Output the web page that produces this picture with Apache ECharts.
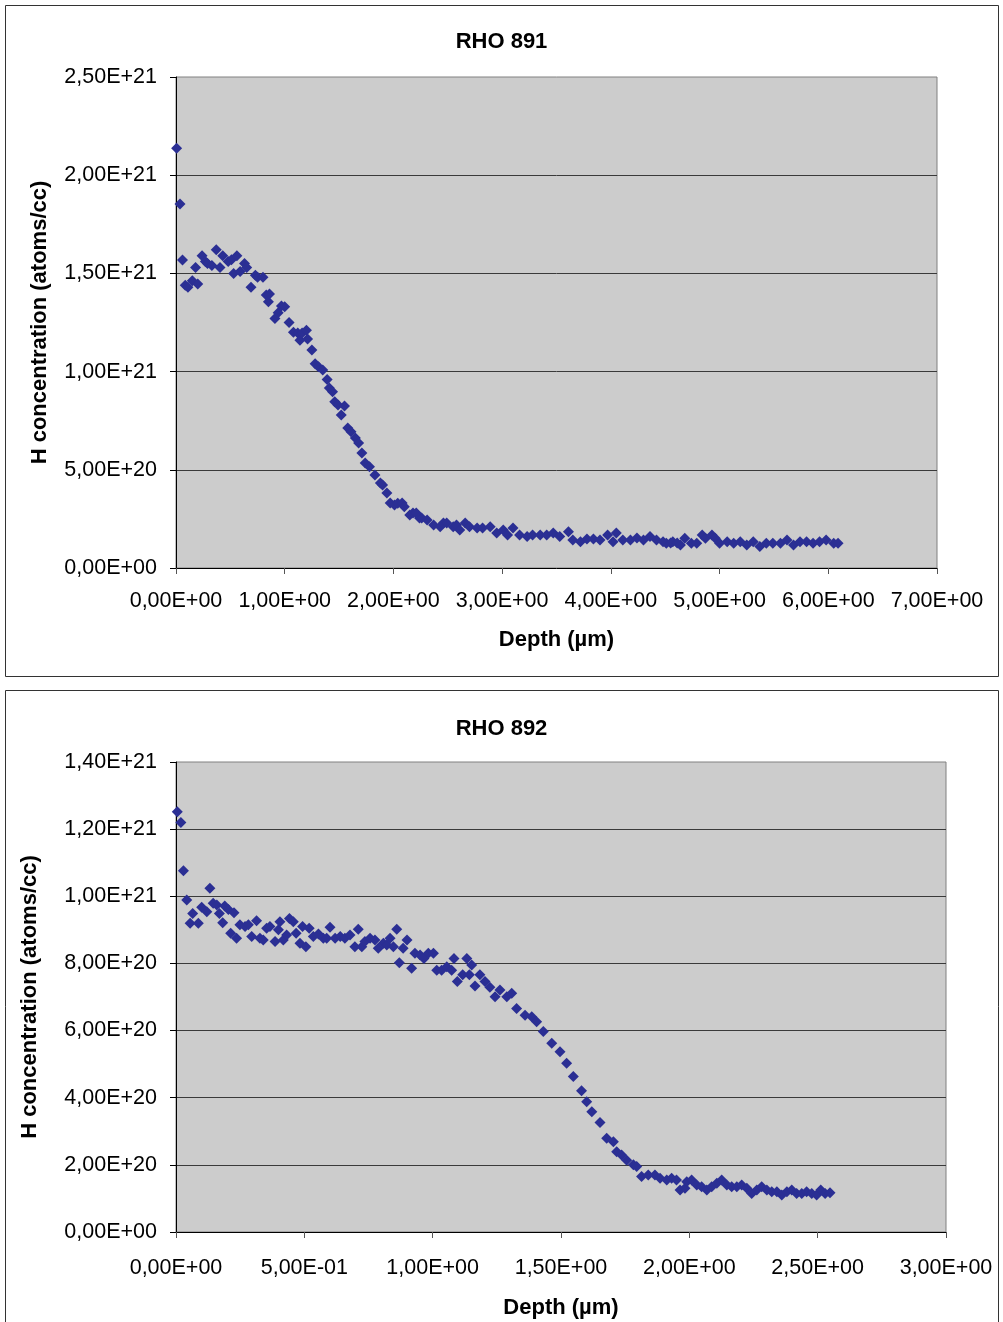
<!DOCTYPE html>
<html>
<head>
<meta charset="utf-8">
<script src="https://cdn.jsdelivr.net/npm/echarts@6/dist/echarts.min.js"></script>
<style>
html,body{margin:0;padding:0;background:#fff;}
#c{width:1003px;height:1322px;}
</style>
</head>
<body>
<div id="c"></div>
<script>
// RHO 891 : depth (µm) and H concentration (atoms/cc)
var rho891Depth = [0.006,0.037,0.06,0.085,0.11,0.15,0.18,0.2,0.24,0.27,0.29,0.33,0.37,0.405,0.43,0.48,0.51,0.53,0.56,0.59,0.63,0.65,0.69,0.73,0.75,0.8,0.83,0.85,0.86,0.91,0.94,0.97,1.0,1.04,1.08,1.12,1.14,1.16,1.2,1.21,1.25,1.28,1.31,1.35,1.39,1.41,1.44,1.46,1.49,1.52,1.55,1.58,1.61,1.65,1.68,1.71,1.74,1.78,1.83,1.88,1.9,1.94,1.97,2.01,2.04,2.08,2.1,2.15,2.18,2.21,2.24,2.26,2.31,2.37,2.43,2.46,2.49,2.55,2.58,2.61,2.66,2.7,2.77,2.82,2.89,2.95,3.01,3.05,3.1,3.16,3.23,3.28,3.35,3.41,3.47,3.53,3.61,3.65,3.72,3.78,3.84,3.9,3.97,4.02,4.05,4.11,4.18,4.24,4.3,4.36,4.42,4.48,4.51,4.55,4.57,4.61,4.64,4.68,4.74,4.79,4.84,4.87,4.93,4.96,5.0,5.07,5.13,5.19,5.25,5.31,5.37,5.43,5.49,5.56,5.62,5.68,5.74,5.8,5.86,5.92,5.98,6.05,6.09];
var rho891H = [21.37e20,18.53e20,15.68e20,14.4e20,14.3e20,14.63e20,15.3e20,14.46e20,15.9e20,15.6e20,15.5e20,15.4e20,16.2e20,15.3e20,15.9e20,15.6e20,15.7e20,15.0e20,15.9e20,15.1e20,15.5e20,15.3e20,14.3e20,14.9e20,14.8e20,14.8e20,13.9e20,13.56e20,13.95e20,12.7e20,13.0e20,13.34e20,13.3e20,12.5e20,12.0e20,11.97e20,11.6e20,11.97e20,12.1e20,11.66e20,11.1e20,10.4e20,10.25e20,10.08e20,9.6e20,9.16e20,8.98e20,8.47e20,8.3e20,7.79e20,8.25e20,7.13e20,6.94e20,6.62e20,6.36e20,5.85e20,5.35e20,5.16e20,4.74e20,4.33e20,4.23e20,3.82e20,3.31e20,3.21e20,3.3e20,3.31e20,3.12e20,2.7e20,2.8e20,2.8e20,2.55e20,2.55e20,2.44e20,2.19e20,2.1e20,2.29e20,2.29e20,2.1e20,2.19e20,1.93e20,2.29e20,2.1e20,2.04e20,2.04e20,2.1e20,1.78e20,1.93e20,1.68e20,2.04e20,1.68e20,1.6e20,1.68e20,1.68e20,1.68e20,1.78e20,1.6e20,1.85e20,1.43e20,1.34e20,1.48e20,1.48e20,1.43e20,1.68e20,1.34e20,1.78e20,1.43e20,1.43e20,1.53e20,1.43e20,1.6e20,1.43e20,1.34e20,1.26e20,1.27e20,1.34e20,1.27e20,1.17e20,1.51e20,1.26e20,1.26e20,1.68e20,1.51e20,1.68e20,1.51e20,1.26e20,1.34e20,1.26e20,1.34e20,1.17e20,1.34e20,1.09e20,1.26e20,1.26e20,1.26e20,1.43e20,1.17e20,1.34e20,1.34e20,1.26e20,1.34e20,1.43e20,1.26e20,1.26e20];

// RHO 892
var rho892Depth = [0.005,0.019,0.029,0.042,0.055,0.065,0.087,0.1,0.12,0.132,0.145,0.159,0.169,0.182,0.19,0.204,0.213,0.226,0.236,0.249,0.269,0.282,0.295,0.314,0.327,0.34,0.353,0.366,0.386,0.399,0.405,0.418,0.431,0.442,0.457,0.468,0.483,0.493,0.506,0.519,0.535,0.555,0.574,0.587,0.6,0.62,0.64,0.658,0.678,0.697,0.71,0.724,0.736,0.756,0.775,0.788,0.808,0.821,0.834,0.847,0.86,0.87,0.885,0.9,0.918,0.931,0.951,0.966,0.983,1.003,1.016,1.035,1.055,1.074,1.083,1.096,1.117,1.133,1.143,1.152,1.165,1.184,1.204,1.223,1.243,1.262,1.289,1.308,1.327,1.36,1.386,1.405,1.431,1.464,1.496,1.522,1.548,1.58,1.6,1.62,1.652,1.678,1.704,1.717,1.736,1.756,1.782,1.795,1.814,1.84,1.866,1.886,1.912,1.931,1.95,1.964,1.983,1.99,2.009,2.029,2.048,2.068,2.087,2.107,2.126,2.146,2.165,2.185,2.204,2.224,2.243,2.263,2.282,2.302,2.321,2.341,2.36,2.38,2.399,2.418,2.438,2.457,2.477,2.496,2.512,2.529,2.548];
var rho892H = [12.52e20,12.2e20,10.76e20,9.89e20,9.2e20,9.49e20,9.2e20,9.67e20,9.54e20,10.24e20,9.79e20,9.74e20,9.49e20,9.21e20,9.71e20,9.61e20,8.9e20,9.51e20,8.75e20,9.15e20,9.1e20,9.15e20,8.8e20,9.27e20,8.75e20,8.7e20,9.05e20,9.1e20,8.65e20,9.0e20,9.24e20,8.7e20,8.85e20,9.34e20,9.24e20,8.9e20,8.6e20,9.1e20,8.5e20,9.05e20,8.8e20,8.88e20,8.75e20,8.75e20,9.08e20,8.75e20,8.8e20,8.75e20,8.85e20,8.5e20,9.02e20,8.5e20,8.65e20,8.75e20,8.7e20,8.45e20,8.6e20,8.55e20,8.75e20,8.5e20,9.02e20,8.02e20,8.45e20,8.7e20,7.86e20,8.3e20,8.25e20,8.15e20,8.3e20,8.3e20,7.8e20,7.8e20,7.9e20,7.8e20,8.15e20,7.46e20,7.66e20,8.15e20,7.66e20,7.95e20,7.33e20,7.66e20,7.46e20,7.29e20,7.01e20,7.21e20,7.01e20,7.11e20,6.66e20,6.46e20,6.41e20,6.26e20,5.97e20,5.62e20,5.37e20,5.03e20,4.63e20,4.21e20,3.88e20,3.58e20,3.26e20,2.79e20,2.69e20,2.39e20,2.29e20,2.14e20,2.0e20,1.95e20,1.65e20,1.7e20,1.7e20,1.6e20,1.55e20,1.6e20,1.55e20,1.25e20,1.3e20,1.5e20,1.55e20,1.4e20,1.35e20,1.25e20,1.35e20,1.45e20,1.55e20,1.4e20,1.35e20,1.35e20,1.4e20,1.3e20,1.15e20,1.25e20,1.35e20,1.25e20,1.2e20,1.2e20,1.1e20,1.2e20,1.25e20,1.15e20,1.15e20,1.2e20,1.15e20,1.1e20,1.25e20,1.15e20,1.17e20];

var titles = ['RHO 891', 'RHO 892'];
var xName = 'Depth (µm)';
var yName = 'H concentration (atoms/cc)';

function sci(v) {
  if (Math.abs(v) < 1e-12) return '0,00E+00';
  var e = Math.floor(Math.log10(Math.abs(v)) + 1e-9);
  var m = v / Math.pow(10, e);
  if (Math.abs(m) >= 9.995) { m /= 10; e++; }
  var es = (e < 0 ? '-' : '+') + String(Math.abs(e)).padStart(2, '0');
  return m.toFixed(2).replace('.', ',') + 'E' + es;
}
function pairs(xs, ys) { return xs.map(function (x, i) { return [x, ys[i]]; }); }

var FONT = '"Liberation Sans", Arial, sans-serif';
var MARK = '#2b2f94';

function xAxis(idx, max, interval, gap, margin) {
  return {
    type: 'value', gridIndex: idx, min: 0, max: max, interval: interval,
    name: xName, nameLocation: 'middle', nameGap: gap,
    nameTextStyle: { fontFamily: FONT, fontSize: 22, fontWeight: 'bold', color: '#000' },
    axisLine: { show: true, lineStyle: { color: '#000', width: 1 } },
    axisTick: { show: true, length: 6, lineStyle: { color: '#555' } },
    axisLabel: { formatter: sci, fontFamily: FONT, fontSize: 21.5, color: '#000', margin: margin, showMaxLabel: true },
    splitLine: { show: false }
  };
}
function yAxis(idx, max, interval, gap) {
  return {
    type: 'value', gridIndex: idx, min: 0, max: max, interval: interval,
    name: yName, nameLocation: 'middle', nameGap: gap,
    nameTextStyle: { fontFamily: FONT, fontSize: 22, fontWeight: 'bold', color: '#000' },
    axisLine: { show: true, lineStyle: { color: '#000', width: 1 } },
    axisTick: { show: true, length: 6, lineStyle: { color: '#000' } },
    axisLabel: { formatter: sci, fontFamily: FONT, fontSize: 21.5, color: '#000', margin: 19 },
    splitLine: { show: true, showMinLine: false, showMaxLine: false, lineStyle: { color: '#3a3a3a', width: 1 } }
  };
}

var chart = echarts.init(document.getElementById('c'), null, { renderer: 'canvas' });
chart.setOption({
  backgroundColor: '#ffffff',
  animation: false,
  graphic: [
    { type: 'rect', shape: { x: 5.5, y: 5.5, width: 993, height: 671 }, style: { fill: 'none', stroke: '#333', lineWidth: 1 }, z: -1 },
    { type: 'rect', shape: { x: 5.5, y: 690.5, width: 993, height: 660 }, style: { fill: 'none', stroke: '#333', lineWidth: 1 }, z: -1 }
  ],
  title: [
    { text: titles[0], left: 'center', top: 26, textStyle: { fontFamily: FONT, fontSize: 22, fontWeight: 'bold', color: '#000' } },
    { text: titles[1], left: 'center', top: 713, textStyle: { fontFamily: FONT, fontSize: 22, fontWeight: 'bold', color: '#000' } }
  ],
  grid: [
    { left: 176, top: 77, width: 761, height: 491, show: true, backgroundColor: '#cccccc', borderColor: '#808080', borderWidth: 1 },
    { left: 176, top: 762, width: 770, height: 470, show: true, backgroundColor: '#cccccc', borderColor: '#808080', borderWidth: 1 }
  ],
  xAxis: [xAxis(0, 7, 1, 61, 22), xAxis(1, 3, 0.5, 65, 25)],
  yAxis: [yAxis(0, 2.5e21, 5e20, 125), yAxis(1, 1.4e21, 2e20, 135)],
  series: [
    { type: 'scatter', xAxisIndex: 0, yAxisIndex: 0, symbol: 'diamond', symbolSize: 11, itemStyle: { color: MARK, opacity: 1 }, data: pairs(rho891Depth, rho891H) },
    { type: 'scatter', xAxisIndex: 1, yAxisIndex: 1, symbol: 'diamond', symbolSize: 11, itemStyle: { color: MARK, opacity: 1 }, data: pairs(rho892Depth, rho892H) }
  ]
});
</script>
</body>
</html>
